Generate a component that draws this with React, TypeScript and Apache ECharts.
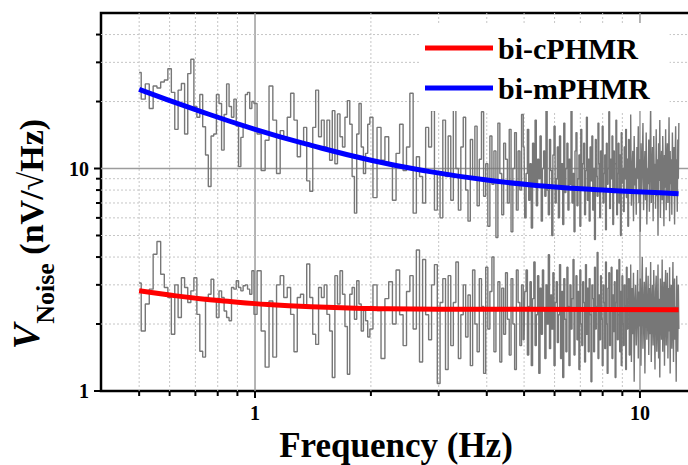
import React, { useEffect, useRef } from 'react';
import * as echarts from 'echarts';

const FONT = '"Liberation Serif", "Times New Roman", serif';

// Axis ranges
const X_MIN = 0.398;
const X_MAX = 13.57;
const Y_MIN = 1;
const Y_MAX = 50;

// Tick / grid positions
const X_MINOR = [0.5, 0.6, 0.7, 0.8, 0.9, 2, 3, 4, 5, 6, 7, 8, 9];
const X_MAJOR = [1, 10];
const Y_MINOR = [2, 3, 4, 5, 6, 7, 8, 9, 20, 30, 40];
const Y_MAJOR = [1, 10];

// Legend names
const NAME_C = 'bi-cPHMR';
const NAME_M = 'bi-mPHMR';

// Frequency bins of the measured spectra (four segments)
const SEG1_START = 0.5;
const SEG1_STEP = 0.0125;
const SEG2_START = 1.0;
const SEG2_STEP = 0.025;
const SEG3_START = 2.0;
const SEG3_STEP = 0.05;
const SEG4_START = 5.0;
const SEG4_STEP = 0.04;

// bi-mPHMR measured noise (nV/√Hz)
const mNoise1 = [27, 20.5, 24.0, 18.6, 23.5, 23.0, 24.5, 25.0, 28.1, 22.0, 15.0, 22.5, 24.1, 14.3, 26.7, 31.0, 19.0, 17.0, 21.5, 15.4,
  11.5, 8.3, 14.0, 14.3, 21.5, 19.6, 12.1, 17.5, 24.0, 19.0, 17.0, 20.5, 15.5, 10.2, 13.8, 15.5, 21.5, 22.0, 18.6, 20.0];
const mNoise2 = [19.6, 14.3, 9.8, 13.4, 23.5, 16.5, 9.5, 14.8, 13.9, 17.0, 21.8, 16.5, 11.3, 12.9, 15.3, 8.8, 7.9, 15.3, 22.5, 13.9,
  16.5, 12.5, 16.5, 10.9, 18.2, 10.5, 17.6, 13.9, 12.5, 17.0, 20.2, 15.8, 9.2, 6.3, 14.3, 19.6, 12.5, 9.5, 11.7, 15.8];
const mNoise3 = [17.0, 7.4, 15.3, 10.9, 13.9, 10.3, 7.2, 11.7, 15.8, 9.8, 12.5, 21.8,
  6.3, 11.3, 9.2, 7.0, 15.3, 12.5, 18.2, 6.5, 9.5, 6.0, 16.5, 9.2,
  14.0, 7.2, 19.5, 10.0, 6.5, 12.5, 17.0, 8.0, 5.8, 13.5,
  9.0, 15.5, 6.8, 11.0, 18.0, 7.5, 10.5, 5.5, 14.0, 8.5,
  12.0, 4.9, 16.0, 9.5, 6.2, 13.0, 11.0, 7.0, 15.0, 5.2,
  10.0, 14.5, 6.5, 12.0, 8.0, 17.5];
const mNoise4 = [12.5, 6.0, 9.5, 15.0, 7.2, 10.5, 5.4, 13.0, 8.5, 16.5, 6.8, 11.0,
  9.0, 14.0, 5.8, 10.0, 12.0, 7.5, 18.5, 8.0, 6.2, 13.5, 9.8, 5.0,
  11.5, 15.5, 7.0, 9.0, 12.5, 6.0, 14.0, 8.2, 10.5, 5.6, 16.0, 7.8,
  10.0, 13.0, 6.5, 11.0, 8.5, 19.0, 7.0, 9.5, 5.2, 12.0, 14.5, 6.8,
  9.0, 11.5, 5.5, 15.0, 8.0, 10.5, 13.0, 6.2, 9.8, 17.0, 7.2, 11.0,
  5.8, 12.5, 8.8, 14.0, 6.5, 10.0, 4.8, 13.5, 9.2, 7.5, 16.0, 10.5,
  6.0, 12.0, 8.0, 15.5, 7.0, 9.5, 11.5, 5.3, 13.0, 8.5, 10.0, 18.0,
  6.6, 11.0, 9.0, 14.0, 5.6, 12.0, 7.8, 10.5, 16.5, 6.2, 9.5, 13.0,
  7.0, 11.5, 5.0, 14.5, 8.6, 10.0, 6.4, 12.5, 9.0, 15.0, 7.4, 11.0,
  5.5, 13.5, 8.0, 10.5, 17.5, 6.8, 9.5, 12.0, 5.8, 14.0, 8.4, 10.0,
  6.2, 12.5, 9.0, 15.5, 7.0, 11.0, 5.2, 13.0, 8.0, 10.5, 16.0, 6.5,
  9.5, 12.0, 7.2, 14.5, 5.6, 10.0, 8.5, 13.5, 6.4, 11.5, 19.5, 7.0,
  9.0, 12.5, 5.8, 14.0, 8.0, 10.5, 6.6, 15.0, 7.5, 11.0, 5.0, 13.0,
  8.8, 16.5, 6.0, 10.0, 12.0, 7.2, 14.0, 9.0, 5.5, 11.5, 8.2, 15.0,
  6.5, 10.5, 13.0, 7.0, 9.5, 17.0, 5.8, 12.0, 8.5, 11.0, 6.2, 14.5,
  9.0, 7.5, 12.5, 5.6, 10.5, 15.5, 7.8, 11.0, 6.4, 13.5, 9.0, 16.0];

// bi-cPHMR measured noise (nV/√Hz)
const cNoise1 = [3.06, 1.86, 2.46, 2.87, 4.12, 4.7, 3.35, 2.92, 2.63, 1.80, 3.0, 2.14, 3.23, 2.92, 2.50, 2.82, 3.23, 2.21, 1.51, 1.42,
  2.63, 2.72, 3.18, 2.54, 2.14, 2.82, 2.63, 2.29, 2.14, 2.07, 2.92, 2.87, 3.13, 2.92, 2.82, 2.97, 3.0, 2.87, 2.72, 3.47];
const cNoise2 = [2.21, 3.47, 1.86, 1.28, 2.54, 1.42, 3.0, 3.3, 2.63, 2.92, 2.21, 1.5, 2.63, 2.72, 2.4, 3.72, 2.63, 1.80, 1.62, 2.92,
  2.63, 3.0, 2.21, 1.86, 1.15, 3.3, 2.46, 3.47, 2.72, 1.95, 1.19, 2.72, 2.92, 2.1, 3.13, 2.46, 1.86, 2.3, 2.07, 1.75];
const cNoise3 = [1.9, 3.0, 2.3, 1.4, 2.6, 3.1, 2.0, 3.5, 2.2, 1.6, 2.8, 3.3,
  1.9, 4.3, 1.35, 3.9, 2.2, 1.7, 3.0, 3.7, 1.08, 2.5, 3.2, 1.25,
  3.3, 1.6, 2.5, 3.8, 1.4, 2.2, 3.0, 1.75, 2.7, 1.3,
  3.5, 2.0, 1.5, 3.2, 2.4, 1.2, 3.6, 1.9, 2.8, 4.0,
  1.5, 2.3, 3.1, 1.35, 2.9, 1.8, 3.4, 2.1, 1.45, 3.2,
  2.0, 1.25, 3.5, 2.5, 1.6, 3.0];
const cNoise4 = [1.7, 2.8, 3.5, 1.45, 2.4, 3.1, 1.3, 2.6, 3.8, 1.6, 2.2, 3.3,
  1.2, 2.9, 1.8, 3.5, 2.3, 1.4, 3.0, 2.0, 4.1, 1.55, 2.7, 1.9,
  3.4, 1.3, 2.5, 3.1, 1.65, 2.2, 3.7, 1.4, 2.8, 1.15, 3.2, 2.1,
  1.5, 3.6, 2.4, 1.3, 3.0, 1.9, 2.6, 3.9, 1.45, 2.3, 3.3, 1.7,
  2.8, 1.25, 3.5, 2.0, 1.6, 3.1, 2.5, 1.35, 3.7, 1.8, 2.9, 1.5,
  3.2, 2.2, 1.1, 3.0, 2.6, 1.5, 3.6, 1.9, 2.4, 4.2, 1.4, 2.7,
  1.7, 3.3, 2.1, 1.3, 3.0, 2.5, 1.55, 3.8, 2.0, 1.2, 2.9, 3.4,
  1.6, 2.3, 3.6, 1.4, 2.7, 1.85, 3.1, 1.15, 2.5, 3.5, 1.7, 2.2,
  3.9, 1.5, 2.8, 1.3, 3.3, 2.0, 1.6, 3.0, 2.4, 1.25, 3.6, 1.9,
  2.6, 3.2, 1.45, 2.1, 3.7, 1.35, 2.9, 1.8, 3.4, 1.1, 2.5, 3.0,
  1.6, 2.2, 3.5, 1.4, 2.8, 1.95, 3.2, 1.3, 2.6, 4.0, 1.55, 2.3,
  3.1, 1.2, 2.7, 3.6, 1.7, 2.1, 3.3, 1.45, 2.9, 1.8, 3.8, 1.35,
  2.4, 3.0, 1.6, 3.5, 2.2, 1.25, 2.8, 3.3, 1.5, 2.0, 3.7, 1.4,
  2.6, 1.15, 3.2, 2.3, 1.7, 3.9, 1.5, 2.5, 3.1, 1.3, 2.8, 3.5,
  1.6, 2.1, 3.4, 1.4, 2.9, 1.85, 3.6, 1.2, 2.6, 3.0, 1.55, 2.3,
  3.8, 1.35, 2.7, 3.2, 1.7, 2.4, 1.1, 3.3, 2.0, 1.5, 3.0, 1.9];

// Fitted curves
const fitMFreq = [0.5, 0.7, 1.0, 1.4, 2.0, 2.8, 4.0, 5.6, 8.0, 11.3, 12.6];
const fitMVal = [22.7, 18.4, 15.0, 12.7, 10.9, 9.73, 8.87, 8.35, 8.0, 7.78, 7.71];
const fitCFreq = [0.5, 0.6, 0.72, 0.85, 1.0, 1.4, 2.0, 3.0, 5.0, 12.6];
const fitCVal = [2.82, 2.7, 2.6, 2.53, 2.47, 2.39, 2.35, 2.33, 2.33, 2.32];

function bins(start: number, step: number, n: number): number[] {
  const out: number[] = [];
  for (let i = 0; i < n; i++) out.push(+(start + i * step).toFixed(4));
  return out;
}

function pairs(f: number[], v: number[]): number[][] {
  return v.map((val, i) => [f[i], val]);
}

function spectrum(s1: number[], s2: number[], s3: number[], s4: number[]): number[][] {
  return [
    ...pairs(bins(SEG1_START, SEG1_STEP, s1.length), s1),
    ...pairs(bins(SEG2_START, SEG2_STEP, s2.length), s2),
    ...pairs(bins(SEG3_START, SEG3_STEP, s3.length), s3),
    ...pairs(bins(SEG4_START, SEG4_STEP, s4.length), s4),
  ];
}

function decadeLabel(v: number): string {
  const l = Math.log10(v);
  if (Math.abs(l - Math.round(l)) < 1e-6) return String(Math.round(v));
  return '';
}

export default function App() {
  const ref = useRef<HTMLDivElement>(null);

  useEffect(() => {
    document.body.style.margin = '0';
    if (!ref.current) return;
    const chart = echarts.init(ref.current, undefined, { renderer: 'svg' });

    const tickData: number[][] = [
      ...X_MINOR.map((v) => [v, Y_MIN, 0, 0]),
      ...X_MAJOR.map((v) => [v, Y_MIN, 0, 1]),
      ...Y_MINOR.map((v) => [X_MIN, v, 1, 0]),
      ...Y_MAJOR.map((v) => [X_MIN, v, 1, 1]),
    ];

    const labelStyle = {
      color: '#000',
      fontFamily: FONT,
      fontWeight: 'bold',
      fontSize: 20,
      margin: 12,
      formatter: decadeLabel,
    };

    const noiseStyle = { color: '#777777', width: 1.4 };

    const option: any = {
      animation: false,
      backgroundColor: '#ffffff',
      grid: {
        left: 101,
        top: 13,
        width: 590,
        height: 378,
        outerBoundsMode: 'none',
        containLabel: false,
        show: true,
        borderColor: '#000',
        borderWidth: 2.5,
        backgroundColor: 'transparent',
      },
      legend: {
        data: [NAME_C, NAME_M],
        orient: 'vertical',
        left: 420,
        top: 23,
        padding: [10, 20, 8, 5],
        backgroundColor: '#ffffff',
        itemWidth: 68,
        itemHeight: 5,
        itemGap: 10,
        icon: 'rect',
        textStyle: { color: '#000', fontFamily: FONT, fontWeight: 'bold', fontSize: 30 },
      },
      xAxis: {
        type: 'log',
        logBase: 10,
        min: X_MIN,
        max: X_MAX,
        axisLine: { show: false },
        axisTick: { show: false },
        splitLine: { show: false },
        axisLabel: labelStyle,
        name: 'Frequency (Hz)',
        nameLocation: 'middle',
        nameGap: 35,
        nameTextStyle: { color: '#000', fontFamily: FONT, fontWeight: 'bold', fontSize: 35, lineHeight: 32 },
      },
      yAxis: {
        type: 'log',
        logBase: 10,
        min: Y_MIN,
        max: Y_MAX,
        axisLine: { show: false },
        axisTick: { show: false },
        splitLine: { show: false },
        axisLabel: labelStyle,
        name: '{v|V}{s|Noise}{u| (nV/√Hz)}',
        nameLocation: 'middle',
        nameRotate: 90,
        nameGap: 34,
        nameTextStyle: {
          color: '#000',
          fontFamily: FONT,
          fontWeight: 'bold',
          fontSize: 34,
          padding: [0, 64, 0, 0],
          rich: {
            v: { color: '#000', fontFamily: FONT, fontWeight: 'bold', fontStyle: 'italic', fontSize: 38, verticalAlign: 'bottom', padding: [0, 0, 13, 0] },
            s: { color: '#000', fontFamily: FONT, fontWeight: 'bold', fontSize: 26, verticalAlign: 'bottom' },
            u: { color: '#000', fontFamily: FONT, fontWeight: 'bold', fontSize: 34, verticalAlign: 'bottom', padding: [0, 0, 10, 0] },
          },
        },
      },
      series: [
        {
          name: 'ticks',
          type: 'custom',
          silent: true,
          clip: false,
          data: tickData,
          renderItem: (params: any, api: any) => {
            const cs = params.coordSys;
            const axis = api.value(2);
            const major = api.value(3) === 1;
            const p = api.coord([api.value(0), api.value(1)]);
            const gridStyle = major
              ? { stroke: '#9c9c9c', lineWidth: 1.5, fill: null }
              : { stroke: '#c6c6c6', lineWidth: 1, lineDash: [2, 2], fill: null };
            const tickStyle = { stroke: '#000', lineWidth: 2, fill: null };
            const children: any[] = [];
            if (axis === 0) {
              const x = p[0];
              const bottom = cs.y + cs.height;
              if (x > cs.x + 2 && x < cs.x + cs.width - 2) {
                children.push({ type: 'line', shape: { x1: x, y1: cs.y, x2: x, y2: bottom }, style: gridStyle });
              }
              children.push({ type: 'line', shape: { x1: x, y1: bottom, x2: x, y2: bottom + (major ? 7 : 5) }, style: tickStyle });
            } else {
              const y = p[1];
              if (y > cs.y + 2 && y < cs.y + cs.height - 2) {
                children.push({ type: 'line', shape: { x1: cs.x, y1: y, x2: cs.x + cs.width, y2: y }, style: gridStyle });
              }
              children.push({ type: 'line', shape: { x1: cs.x, y1: y, x2: cs.x - (major ? 7 : 5), y2: y }, style: tickStyle });
            }
            return { type: 'group', children };
          },
        },
        {
          name: 'noise-c',
          type: 'line',
          data: spectrum(cNoise1, cNoise2, cNoise3, cNoise4),
          step: 'middle',
          symbol: 'none',
          silent: true,
          lineStyle: noiseStyle,
          itemStyle: { color: noiseStyle.color },
        },
        {
          name: 'noise-m',
          type: 'line',
          data: spectrum(mNoise1, mNoise2, mNoise3, mNoise4),
          step: 'middle',
          symbol: 'none',
          silent: true,
          lineStyle: noiseStyle,
          itemStyle: { color: noiseStyle.color },
        },
        {
          name: NAME_C,
          type: 'line',
          data: pairs(fitCFreq, fitCVal),
          smooth: true,
          symbol: 'none',
          color: '#ff0000',
          itemStyle: { color: '#ff0000' },
          lineStyle: { color: '#ff0000', width: 5 },
        },
        {
          name: NAME_M,
          type: 'line',
          data: pairs(fitMFreq, fitMVal),
          smooth: true,
          symbol: 'none',
          color: '#0000ff',
          itemStyle: { color: '#0000ff' },
          lineStyle: { color: '#0000ff', width: 5 },
        },
      ],
    };

    chart.setOption(option);
    return () => {
      chart.dispose();
    };
  }, []);

  return <div ref={ref} style={{ width: 688, height: 465 }} />;
}
